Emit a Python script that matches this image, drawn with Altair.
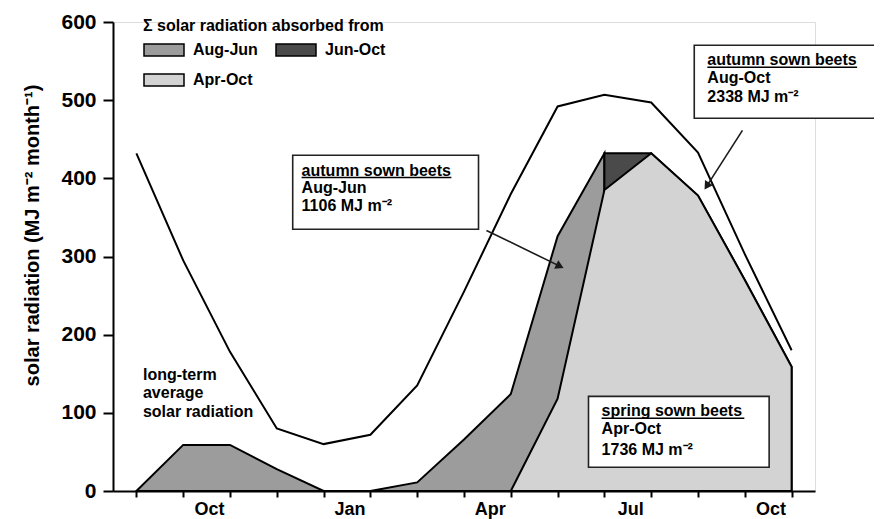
import math
import altair as alt
import pandas as pd

FONT = "Liberation Sans"

# ---------------- data ----------------
months = ["Aug", "Sep", "Oct", "Nov", "Dec", "Jan", "Feb", "Mar",
          "Apr", "May", "Jun", "Jul", "Aug", "Sep", "Oct"]
shown_labels = ["", "", "Oct", "", "", "Jan", "", "", "Apr", "", "", "Jul", "", "", "Oct"]

# long-term average monthly solar radiation (MJ m-2 month-1)
longterm = [432, 295, 178, 80, 60, 72, 135, 255, 380, 492, 507, 497, 433, 303, 180]

# absorbed radiation of the three crops (month index, value)
augjun_idx = [0, 1, 2, 3, 4, 5, 6, 7, 8, 9, 10]
augjun_val = [0, 59, 59, 28, 0, 0, 11, 66, 124, 326, 432]
junoct_idx = [10, 11, 12, 13, 14]
junoct_val = [432, 432, 378, 270, 159]
aproct_idx = [8, 9, 10, 11, 12, 13, 14]
aproct_val = [0, 118, 385, 432, 378, 270, 159]

series_names = ["Aug-Jun", "Jun-Oct", "Apr-Oct"]
series_colors = ["#9c9c9c", "#4a4a4a", "#d3d3d3"]
legend_order = ["Aug-Jun", "Apr-Oct", "Jun-Oct"]  # column-major fill -> rows: Aug-Jun, Jun-Oct / Apr-Oct

# annotation boxes (data units)
box_x = [3.34, 11.92, 9.66]
box_x2 = [7.31, 15.87, 13.52]
box_y = [429.5, 570.2, 121.1]
box_y2 = [334.8, 476.8, 30.3]

box_lines = [["autumn sown beets", "Aug-Jun", "1106 MJ m\u207b\u00b2"],
             ["autumn sown beets", "Aug-Oct", "2338 MJ m\u207b\u00b2"],
             ["spring sown beets", "Apr-Oct", "1736 MJ m\u207b\u00b2"]]
box_text_x = [3.53, 12.2, 9.94]
box_text_y = [[410, 387, 364], [551, 528, 504], [102, 79, 53]]
underline_len = [3.2, 3.2, 3.05]

lt_lines = ["long-term", "average", "solar radiation"]
lt_x = 0.14
lt_y = [149, 125, 101]

# arrows: start -> tip
arrow_x1 = [7.48, 12.95]
arrow_y1 = [333.3, 461.3]
arrow_x2 = [9.145, 12.13]
arrow_y2 = [284.8, 384.7]

# ---------------- layout ----------------
W, H = 702, 469
XMIN, XMAX = -0.5, 14.5
YMIN, YMAX = 0, 600
PX = W / (XMAX - XMIN)
PY = H / (YMAX - YMIN)

area_df = pd.DataFrame({
    "series": ["Aug-Jun"] * len(augjun_idx) + ["Jun-Oct"] * len(junoct_idx) + ["Apr-Oct"] * len(aproct_idx),
    "idx": augjun_idx + junoct_idx + aproct_idx,
    "val": augjun_val + junoct_val + aproct_val,
})
line_df = pd.DataFrame({"idx": list(range(len(longterm))), "val": longterm})

box_df = pd.DataFrame({"x": box_x, "x2": box_x2, "y": box_y, "y2": box_y2})

trows = []
for bx, lines, ys_ in zip(box_text_x, box_lines, box_text_y):
    for t, yy in zip(lines, ys_):
        trows.append({"x": bx, "y": yy, "t": t})
for t, yy in zip(lt_lines, lt_y):
    trows.append({"x": lt_x, "y": yy, "t": t})
text_df = pd.DataFrame(trows)

ul_df = pd.DataFrame({
    "x": box_text_x,
    "x2": [bx + l for bx, l in zip(box_text_x, underline_len)],
    "y": [ys_[0] - 9 for ys_ in box_text_y],
})

arr_rows = []
head_rows = []
for x1, y1, x2, y2 in zip(arrow_x1, arrow_y1, arrow_x2, arrow_y2):
    dx = (x2 - x1) * PX
    dy = -(y2 - y1) * PY
    ang = math.degrees(math.atan2(dy, dx)) % 360
    L = math.hypot(dx, dy)
    back = 5.0
    hx = x2 - (dx / L) * back / PX
    hy = y2 + (dy / L) * back / PY
    arr_rows.append({"x": x1, "y": y1, "x2": x2 - (dx / L) * 4 / PX, "y2": y2 + (dy / L) * 4 / PY})
    head_rows.append({"x": hx, "y": hy, "a": ang})
arr_df = pd.DataFrame(arr_rows)
head_df = pd.DataFrame(head_rows)

xs = alt.Scale(domain=[XMIN, XMAX], nice=False, zero=False)
ys = alt.Scale(domain=[YMIN, YMAX], nice=False, zero=False)
cscale = alt.Scale(domain=series_names, range=series_colors)

label_expr = "[" + ",".join("'%s'" % s for s in shown_labels) + "][datum.value]"

xaxis = alt.Axis(values=list(range(len(months))), labelExpr=label_expr, title=None, grid=False,
                 tickSize=6, tickWidth=2, tickColor="black", domainColor="black", domainWidth=2,
                 labelFont=FONT, labelFontSize=18, labelFontWeight="bold", labelColor="black",
                 labelOffset=-21, labelPadding=3, labelFlush=False, labelOverlap=False)
yaxis = alt.Axis(values=[0, 100, 200, 300, 400, 500, 600], grid=False,
                 title="solar radiation (MJ m\u207b\u00b2 month\u207b\u00b9)",
                 titleFont=FONT, titleFontSize=20, titleFontWeight="bold", titleColor="black",
                 titleAngle=270, titleX=-81, titleY=213, titleAlign="center", titleBaseline="middle",
                 tickSize=10, tickWidth=2, tickColor="black", domainColor="black", domainWidth=2,
                 labelFont=FONT, labelFontSize=21, labelFontWeight="bold", labelColor="black",
                 labelPadding=7)

legend = alt.Legend(orient="none", legendX=30, legendY=-4, columns=2, values=legend_order,
                    title="\u03a3 solar radiation absorbed from", titleFont=FONT, titleFontSize=16,
                    titleFontWeight="bold", titleColor="black", titlePadding=-5, titleLimit=500,
                    labelFont=FONT, labelFontSize=16, labelFontWeight="bold", labelColor="black",
                    labelOffset=8, labelLimit=300, symbolType="M-1,-0.3H1V0.3H-1Z", symbolSize=1600,
                    symbolStrokeColor="black", symbolStrokeWidth=1.5, symbolOpacity=1,
                    columnPadding=15, rowPadding=-7, padding=0)


def X(f):
    return alt.X(f, type="quantitative", scale=xs, axis=xaxis)


def Y(f):
    return alt.Y(f, type="quantitative", scale=ys, axis=yaxis)


def area_layer(name):
    return alt.Chart(area_df).transform_filter(alt.datum.series == name).mark_area(
        stroke="black", strokeWidth=2, opacity=1, strokeJoin="miter"
    ).encode(x=X("idx"), y=Y("val"),
             color=alt.Color("series:N", scale=cscale, legend=legend))


layers = [area_layer(n) for n in series_names]

line = alt.Chart(line_df).mark_line(color="black", strokeWidth=2).encode(x=X("idx"), y=Y("val"))

boxes = alt.Chart(box_df).mark_rect(fill="white", stroke="#222222", strokeWidth=1.6).encode(
    x=X("x"), x2="x2", y=Y("y"), y2="y2")

texts = alt.Chart(text_df).mark_text(align="left", baseline="middle", font=FONT, fontSize=16,
                                     fontWeight="bold", color="black").encode(
    x=X("x"), y=Y("y"), text="t:N")

ulines = alt.Chart(ul_df).mark_rule(color="black", strokeWidth=1.5).encode(
    x=X("x"), x2="x2", y=Y("y"))

arrows = alt.Chart(arr_df).mark_rule(color="#1a1a1a", strokeWidth=1.6).encode(
    x=X("x"), y=Y("y"), x2="x2", y2="y2")

heads = alt.Chart(head_df).mark_point(shape="triangle-right", filled=True, color="#1a1a1a",
                                      size=90, opacity=1).encode(
    x=X("x"), y=Y("y"), angle=alt.Angle("a:Q", scale=None))

chart = alt.layer(*layers, line, boxes, ulines, texts, arrows, heads).properties(
    width=W, height=H,
    autosize=alt.AutoSizeParams(type="none"),
    padding={"left": 105, "top": 14, "right": 59, "bottom": 28},
).configure_view(stroke=None).configure(font=FONT, background="white")

chart.save("out.html", embed_options={"renderer": "svg", "actions": False})
